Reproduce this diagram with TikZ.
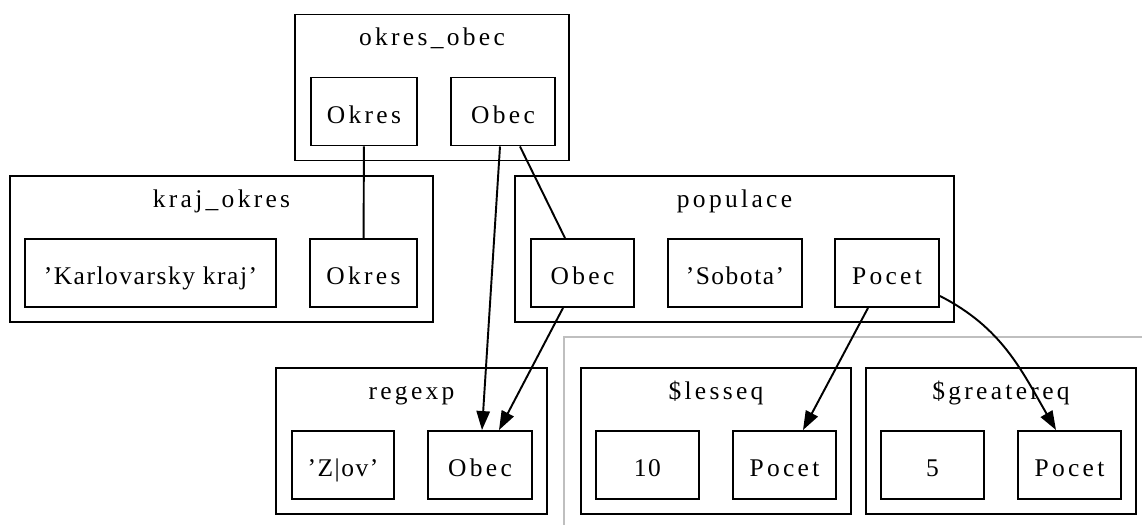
\documentclass[tikz,border=0pt]{standalone}
\usepackage{fontspec}
\setmainfont{Liberation Serif}
\newfontfamily\namefont[LetterSpace=13]{Liberation Serif}
\newfontfamily\litfont[LetterSpace=6]{Liberation Serif}
\usetikzlibrary{arrows.meta}

\begin{document}
\begin{tikzpicture}[
			every node/.style={font=\namefont\fontsize{7.25}{8.7}\selectfont},
			cluster/.style={draw, line width=0.55pt, minimum height=1.46cm, inner sep=0pt},
			title/.style={anchor=base, inner sep=0pt},
			field/.style={draw, line width=0.55pt, minimum height=0.68cm, inner sep=0pt, text height=0.66em, text depth=0pt},
			literal/.style={field, font=\litfont\fontsize{7.25}{8.7}\selectfont},
			edge/.style={line width=0.55pt},
			arc/.style={edge, -{Triangle[length=5.4pt, width=3.8pt]}}
			]
			\useasboundingbox (0,0) rectangle (11.42,5.24);
			
			% Outer grey frame round the comparisons
			\begin{scope}
				\clip (0,0) rectangle (11.42,5.24);
				\draw[black!25, line width=0.45pt] (5.64,-0.2) rectangle (11.6,1.87);
			\end{scope}
			
			% okres_obec
			\node[cluster, minimum width=2.74cm] (oo) at (4.32,4.365) {};
			\node[title] (oo_title) at (4.32,4.79) {okres\_obec};
			\node[field, minimum width=1.06cm] (oo_okres) at (3.64,4.125) {Okres};
			\node[field, minimum width=1.04cm] (oo_obec) at (5.03,4.125) {Obec};
			
			% kraj_okres
			\node[cluster, minimum width=4.23cm] (ko) at (2.215,2.75) {};
			\node[title] (ko_title) at (2.215,3.17) {kraj\_okres};
			\node[literal, minimum width=2.51cm] (ko_kraj) at (1.505,2.51) {’Karlovarsky kraj’};
			\node[field, minimum width=1.07cm] (ko_okres) at (3.635,2.51) {Okres};
			
			% populace
			\node[cluster, minimum width=4.39cm] (po) at (7.345,2.75) {};
			\node[title] (po_title) at (7.345,3.17) {populace};
			\node[field, minimum width=1.03cm] (po_obec) at (5.825,2.51) {Obec};
			\node[literal, minimum width=1.34cm] (po_sobota) at (7.35,2.51) {’Sobota’};
			\node[field, minimum width=1.04cm] (po_pocet) at (8.87,2.51) {Pocet};
			
			% regexp
			\node[cluster, minimum width=2.71cm] (re) at (4.115,0.83) {};
			\node[title] (re_title) at (4.115,1.25) {regexp};
			\node[literal, minimum width=1.02cm] (re_zov) at (3.43,0.59) {’Z|ov’};
			\node[field, minimum width=1.04cm] (re_obec) at (4.80,0.59) {Obec};
			
			% $lesseq
			\node[cluster, minimum width=2.70cm] (le) at (7.16,0.83) {};
			\node[title] (le_title) at (7.16,1.25) {\$lesseq};
			\node[literal, minimum width=1.03cm] (le_ten) at (6.475,0.59) {10};
			\node[field, minimum width=1.03cm] (le_pocet) at (7.845,0.59) {Pocet};
			
			% $greatereq
			\node[cluster, minimum width=2.70cm] (ge) at (10.01,0.83) {};
			\node[title] (ge_title) at (10.01,1.25) {\$greatereq};
			\node[literal, minimum width=1.03cm] (ge_five) at (9.325,0.59) {5};
			\node[field, minimum width=1.03cm] (ge_pocet) at (10.695,0.59) {Pocet};
			
			% Joins
			\draw[edge] (oo_okres) -- (ko_okres);
			\draw[edge] ([xshift=1.7mm]oo_obec.south) -- ([xshift=-1.75mm]po_obec.north);
			\draw[arc] ([xshift=-0.3mm]oo_obec.south) -- ([xshift=0.2mm]re_obec.north);
			\draw[arc] ([xshift=-1.95mm]po_obec.south) -- ([xshift=1.9mm]re_obec.north);
			\draw[arc] ([xshift=-1.9mm]po_pocet.south) -- ([xshift=1.85mm]le_pocet.north);
			\draw[arc] ([yshift=-2.3mm]po_pocet.east) to[out=-27, in=120] ([xshift=-1.35mm]ge_pocet.north);
		\end{tikzpicture}
\end{document}
